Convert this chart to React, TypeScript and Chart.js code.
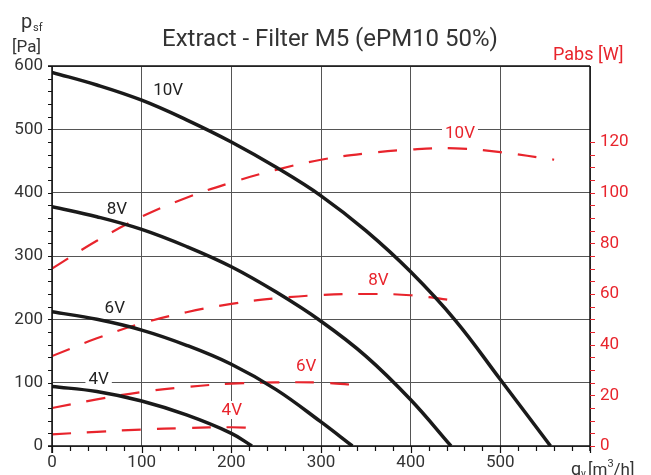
import React, { useEffect, useRef } from 'react';
import { Chart, registerables } from 'chart.js';

Chart.register(...registerables);

// Pressure curves (left axis, Pa) vs airflow qv (m3/h)
const q10 = [0, 50, 100, 150, 200, 250, 300, 350, 400, 450, 500, 556];
const p10 = [590, 570, 546, 515, 480, 440, 395, 340, 275, 198, 105, 0];
const q8 = [0, 50, 100, 150, 200, 250, 300, 350, 400, 445];
const p8 = [378, 362, 342, 315, 283, 243, 197, 142, 73, 0];
const q6 = [0, 50, 100, 150, 200, 250, 300, 335];
const p6 = [212, 200, 183, 159, 129, 89, 38, 0];
const q4 = [0, 50, 100, 150, 200, 223];
const p4 = [94, 86, 71, 49, 20, 0];

// Absorbed power curves (right axis, W)
const w10q = [0, 50, 100, 150, 200, 250, 300, 350, 400, 450, 500, 560];
const w10 = [70, 81, 90.5, 98, 104, 109, 113, 115.5, 117, 117.5, 116, 113];
const w8q = [0, 50, 100, 150, 200, 250, 300, 350, 400, 457];
const w8 = [35.5, 42.5, 48.4, 52.8, 56.1, 58.3, 59.6, 60, 59.5, 57];
const w6q = [0, 50, 100, 150, 200, 250, 300, 342];
const w6 = [15, 18.4, 21.3, 23.3, 24.6, 25.1, 25, 24];
const w4q = [0, 50, 100, 150, 200, 224];
const w4 = [4.6, 5.6, 6.5, 7.1, 7.4, 7.1];

const xTicks = [0, 100, 200, 300, 400, 500];
const yTicks = [0, 100, 200, 300, 400, 500, 600];
const y1Ticks = [0, 20, 40, 60, 80, 100, 120];

const title = 'Extract - Filter M5 (ePM10 50%)';

// curve labels: text, anchor in data units, axis
const curveLabels = [
  { text: '10V', q: 129.5, v: 562, axis: 'y', red: false, bg: false },
  { text: '8V', q: 72.5, v: 375, axis: 'y', red: false, bg: false },
  { text: '6V', q: 70, v: 218, axis: 'y', red: false, bg: false },
  { text: '4V', q: 52, v: 106, axis: 'y', red: false, bg: true },
  { text: '10V', q: 455, v: 123.6, axis: 'y1', red: true, bg: true },
  { text: '8V', q: 364, v: 65.5, axis: 'y1', red: true, bg: false },
  { text: '6V', q: 283.5, v: 31.6, axis: 'y1', red: true, bg: false },
  { text: '4V', q: 200.5, v: 14.2, axis: 'y1', red: true, bg: true },
];

const RED = '#e8242c';
const DARK = '#333333';
const FONT = 'Roboto, "Noto Sans", sans-serif';

const pts = (xs: number[], ys: number[]) => xs.map((x, i) => ({ x, y: ys[i] }));

const decoPlugin = {
  id: 'deco',
  beforeDatasetsDraw(chart: any) {
    const ctx = chart.ctx;
    const xs = chart.scales.x;
    ctx.save();
    ctx.font = `17px ${FONT}`;
    ctx.textAlign = 'center';
    ctx.textBaseline = 'middle';
    for (const l of curveLabels) {
      const px = xs.getPixelForValue(l.q);
      const py = chart.scales[l.axis].getPixelForValue(l.v);
      const w = ctx.measureText(l.text).width;
      if (l.bg) {
        ctx.fillStyle = '#ffffff';
        ctx.fillRect(px - w / 2 - 3, py - 9, w + 6, 18);
      }
      ctx.fillStyle = l.red ? RED : '#222222';
      ctx.fillText(l.text, px, py + 1);
    }
    ctx.restore();
  },
  afterDraw(chart: any) {
    const ctx = chart.ctx;
    const { left, right, top, bottom } = chart.chartArea;
    const xs = chart.scales.x;
    const ys = chart.scales.y;
    const y1 = chart.scales.y1;
    ctx.save();
    // axis lines
    ctx.strokeStyle = '#111111';
    ctx.lineWidth = 1.5;
    ctx.beginPath();
    ctx.moveTo(left, top);
    ctx.lineTo(left, bottom + 7);
    ctx.moveTo(left - 4, bottom);
    ctx.lineTo(right, bottom);
    ctx.moveTo(left - 4, top);
    ctx.lineTo(right, top);
    ctx.moveTo(right, top);
    ctx.lineTo(right, bottom + 5);
    ctx.stroke();
    // minor ticks
    ctx.lineWidth = 1.2;
    ctx.beginPath();
    for (let v = 0; v <= 600; v += 20) {
      const y = Math.round(ys.getPixelForValue(v)) + 0.5;
      ctx.moveTo(left - 4, y);
      ctx.lineTo(left, y);
      const x = Math.round(xs.getPixelForValue(v)) + 0.5;
      ctx.moveTo(x, bottom);
      ctx.lineTo(x, bottom + (v % 100 === 0 ? 7 : 5));
    }
    ctx.stroke();
    ctx.strokeStyle = RED;
    ctx.beginPath();
    for (let v = 0; v <= 120; v += 5) {
      const y = Math.round(y1.getPixelForValue(v)) + 0.5;
      ctx.moveTo(right, y);
      ctx.lineTo(right + 5, y);
    }
    ctx.stroke();

    // title
    ctx.fillStyle = DARK;
    ctx.textAlign = 'center';
    ctx.textBaseline = 'alphabetic';
    ctx.font = `24px ${FONT}`;
    ctx.fillText(title, 330, 46);

    // left axis title
    ctx.textAlign = 'left';
    ctx.font = `20px ${FONT}`;
    ctx.fillText('p', 21, 28);
    ctx.font = `11px ${FONT}`;
    ctx.fillText('sf', 33, 31);
    ctx.font = `17px ${FONT}`;
    ctx.fillText('[Pa]', 12, 52);

    // right axis title
    ctx.fillStyle = RED;
    ctx.font = `18px ${FONT}`;
    ctx.fillText('Pabs [W]', 553, 60);

    // x axis title
    ctx.fillStyle = DARK;
    ctx.font = `18px ${FONT}`;
    ctx.fillText('q', 571, 475);
    ctx.font = `10px ${FONT}`;
    ctx.fillText('v', 581, 477);
    ctx.font = `17px ${FONT}`;
    ctx.fillText('[m', 588, 475);
    const wm = ctx.measureText('[m').width;
    ctx.font = `11px ${FONT}`;
    ctx.fillText('3', 588 + wm, 467);
    const w3 = ctx.measureText('3').width;
    ctx.font = `17px ${FONT}`;
    ctx.fillText('/h]', 588 + wm + w3, 475);
    ctx.restore();
  },
};

export default function App() {
  const ref = useRef<HTMLCanvasElement | null>(null);

  useEffect(() => {
    if (!ref.current) return;
    const pressureStyle = {
      borderColor: '#1a1a1a',
      borderWidth: 3.5,
      pointRadius: 0,
      tension: 0.4,
      yAxisID: 'y',
      fill: false,
    };
    const powerStyle = {
      borderColor: RED,
      borderWidth: 2.2,
      borderDash: [19, 16],
      pointRadius: 0,
      tension: 0.4,
      yAxisID: 'y1',
      fill: false,
    };
    const chart = new Chart(ref.current, {
      type: 'line',
      data: {
        datasets: [
          { label: 'p 10V', data: pts(q10, p10), ...pressureStyle },
          { label: 'p 8V', data: pts(q8, p8), ...pressureStyle },
          { label: 'p 6V', data: pts(q6, p6), ...pressureStyle },
          { label: 'p 4V', data: pts(q4, p4), ...pressureStyle },
          { label: 'P 10V', data: pts(w10q, w10), ...powerStyle },
          { label: 'P 8V', data: pts(w8q, w8), ...powerStyle },
          { label: 'P 6V', data: pts(w6q, w6), ...powerStyle },
          { label: 'P 4V', data: pts(w4q, w4), ...powerStyle },
        ],
      },
      options: {
        animation: false,
        responsive: false,
        layout: { padding: { top: 66, left: 0, right: 0, bottom: 0 } },
        plugins: { legend: { display: false }, tooltip: { enabled: false }, title: { display: false } },
        scales: {
          x: {
            type: 'linear',
            min: 0,
            max: 600,
            afterBuildTicks: (s: any) => { s.ticks = [...xTicks, 600].map((v) => ({ value: v })); },
            afterFit: (s: any) => { s.height = 29; },
            ticks: {
              callback: (v: any) => (xTicks.includes(Number(v)) ? String(v) : ''),
              color: DARK,
              font: { family: FONT, size: 17 },
              padding: 7,
              maxRotation: 0,
              autoSkip: false,
            },
            grid: { color: '#555555', lineWidth: 1, drawTicks: false },
            border: { display: false },
          },
          y: {
            type: 'linear',
            position: 'left',
            min: 0,
            max: 600,
            afterBuildTicks: (s: any) => { s.ticks = yTicks.map((v) => ({ value: v })); },
            afterFit: (s: any) => { s.width = 52; },
            ticks: {
              color: DARK,
              font: { family: FONT, size: 17 },
              padding: 9,
              autoSkip: false,
            },
            grid: { color: '#555555', lineWidth: 1, drawTicks: false },
            border: { display: false },
          },
          y1: {
            type: 'linear',
            position: 'right',
            min: 0,
            max: 150,
            afterBuildTicks: (s: any) => { s.ticks = y1Ticks.map((v) => ({ value: v })); },
            afterFit: (s: any) => { s.width = 61; },
            ticks: {
              color: RED,
              font: { family: FONT, size: 17 },
              padding: 10,
              autoSkip: false,
            },
            grid: { display: false, drawTicks: false },
            border: { display: false },
          },
        },
      },
      plugins: [decoPlugin],
    });
    return () => chart.destroy();
  }, []);

  return (
    <div style={{ position: 'absolute', left: 0, top: 0, width: 651, height: 475, background: '#fff' }}>
      <canvas ref={ref} width={651} height={475} />
    </div>
  );
}
